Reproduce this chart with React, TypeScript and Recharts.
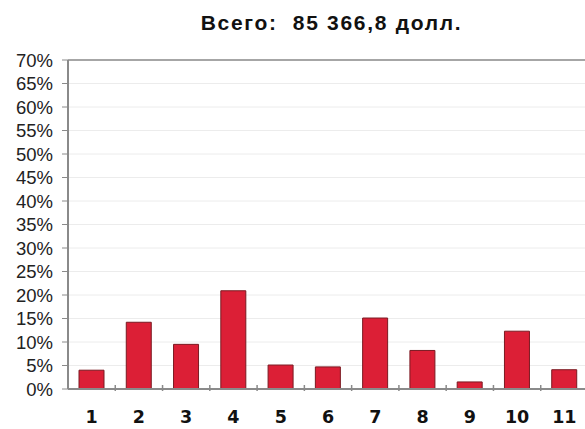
import { Bar, BarChart, CartesianGrid, ReferenceLine, XAxis, YAxis } from "recharts";

const categories = ["1", "2", "3", "4", "5", "6", "7", "8", "9", "10", "11"];
const shares = [4.0, 14.2, 9.5, 20.9, 5.1, 4.7, 15.1, 8.2, 1.5, 12.3, 4.1];
const yTicks = [0, 5, 10, 15, 20, 25, 30, 35, 40, 45, 50, 55, 60, 65, 70];

const data = categories.map((name, i) => ({ name, share: shares[i] }));

const CHART_W = 588;
const AXIS_W = 68;
const STEP = (CHART_W - AXIS_W) / categories.length;

const renderXTick = ({ x, y, payload }: any) => (
  <g>
    <line x1={x + STEP / 2} x2={x + STEP / 2} y1={y - 12} y2={y - 6} stroke="#8a8a8a" strokeWidth={1.5} />
    <text
      x={x}
      y={y + 26}
      textAnchor="middle"
      fontFamily="DejaVu Sans, sans-serif"
      fontWeight="bold"
      fontSize={17.5}
      fill="#111"
    >
      {payload.value}
    </text>
  </g>
);

export default function App() {
  return (
    <div
      style={{
        position: "absolute",
        left: 0,
        top: 0,
        width: 585,
        height: 429,
        overflow: "hidden",
        background: "#fff",
        fontFamily: "Liberation Sans, Arial, sans-serif",
      }}
    >
      <div
        style={{
          position: "absolute",
          top: 11,
          left: 0,
          width: 585,
          paddingLeft: 78,
          boxSizing: "border-box",
          textAlign: "center",
          fontWeight: "bold",
          fontSize: 21,
          letterSpacing: 1.7,
          color: "#111",
          whiteSpace: "pre",
        }}
      >
        {"Всего:  85 366,8 долл."}
      </div>
      <BarChart
        width={CHART_W}
        height={429}
        data={data}
        margin={{ top: 60, right: 0, bottom: 0, left: 0 }}
      >
        <CartesianGrid vertical={false} stroke="#ececec" strokeWidth={1} />
        <ReferenceLine y={70} stroke="#a6a6a6" strokeWidth={2} />
        <XAxis
          dataKey="name"
          tick={renderXTick}
          tickLine={false}
          axisLine={{ stroke: "#8a8a8a", strokeWidth: 2 }}
          interval={0}
          height={40}
        />
        <YAxis
          width={AXIS_W}
          domain={[0, 70]}
          ticks={yTicks}
          interval={0}
          tickFormatter={(v: number) => `${v}%`}
          tick={{ fill: "#222", fontSize: 18.5, fontFamily: "Liberation Sans, Arial, sans-serif" }}
          tickLine={{ stroke: "#8a8a8a" }}
          tickSize={6}
          tickMargin={9}
          axisLine={{ stroke: "#8a8a8a", strokeWidth: 2 }}
        />
        <Bar dataKey="share" barSize={25} fill="#dc1f36" stroke="#7a1a22" strokeWidth={1} isAnimationActive={false} />
      </BarChart>
    </div>
  );
}
